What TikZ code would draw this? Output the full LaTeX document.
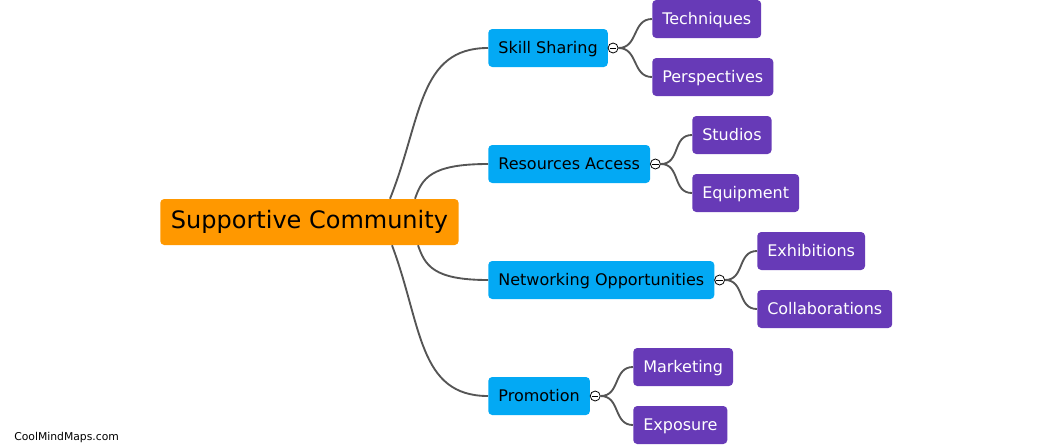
\documentclass[tikz,border=0pt]{standalone}
\usepackage{fontspec}
\setmainfont{DejaVu Sans}
\usetikzlibrary{calc}
\definecolor{rootor}{RGB}{255,152,0}
\definecolor{lonebl}{RGB}{3,169,244}
\definecolor{leafpu}{RGB}{103,58,183}
\definecolor{edgegr}{RGB}{85,85,85}
\tikzset{
  boxbase/.style={rounded corners=3pt, anchor=west},
  rootbox/.style={boxbase, fill=rootor, inner xsep=8pt, minimum height=34.5pt, text=black, text height=13.7pt, text depth=4.3pt, font=\fontsize{18}{21}\selectfont},
  lonebox/.style={boxbase, fill=lonebl, inner xsep=7.6pt, minimum height=28.5pt, text=black, text height=10.8pt, text depth=2.9pt, font=\fontsize{12}{14}\selectfont},
  leafbox/.style={boxbase, fill=leafpu, inner xsep=7.5pt, minimum height=28.5pt, text=white, text height=10.8pt, text depth=2.9pt, font=\fontsize{12}{14}\selectfont},
  colcirc/.style={circle, draw=black, fill=white, line width=0.6pt, minimum size=7.5pt, inner sep=0pt,
    path picture={\draw[line width=0.6pt] ([xshift=1.3pt]path picture bounding box.west) -- ([xshift=-1.3pt]path picture bounding box.east);}},
  edge/.style={draw=edgegr, line width=1.4pt}
}
\begin{document}
\begin{tikzpicture}[x=0.75pt,y=-0.75pt]
\useasboundingbox (0,0) rectangle (1063,444);
% nodes
\node[rootbox] (root) at (160,222) {Supportive Community};
\node[lonebox] (ss) at (488,48) {Skill Sharing};
\node[lonebox] (ra) at (488,164) {Resources Access};
\node[lonebox] (no) at (488,280) {Networking Opportunities};
\node[lonebox] (pr) at (488,396) {Promotion};
\node[colcirc] (css) at ($(ss.east)+(5,0)$) {};
\node[colcirc] (cra) at ($(ra.east)+(5,0)$) {};
\node[colcirc] (cno) at ($(no.east)+(5,0)$) {};
\node[colcirc] (cpr) at ($(pr.east)+(5,0)$) {};
\node[leafbox] (tech) at (652,19) {Techniques};
\node[leafbox] (pers) at (652,77) {Perspectives};
\node[leafbox] (stud) at (692,135) {Studios};
\node[leafbox] (equi) at (692,193) {Equipment};
\node[leafbox] (exhi) at (757,251) {Exhibitions};
\node[leafbox] (coll) at (757,309) {Collaborations};
\node[leafbox] (mark) at (633,367) {Marketing};
\node[leafbox] (expo) at (633,425) {Exposure};
\node[anchor=base west, inner sep=0pt, font=\fontsize{8.1}{10}\selectfont] (wm) at (14,440) {CoolMindMaps.com};
% root edges
\coordinate (s1) at ($(root.north west)+(230,0)$);
\coordinate (s2) at ($(root.north west)+(255,0)$);
\coordinate (s3) at ($(root.south west)+(258,0)$);
\coordinate (s4) at ($(root.south west)+(232,0)$);
\draw[edge] (s1) .. controls ($(s1)+(32,-80)$) and ($(ss.west)+(-70,0)$) .. (ss.west);
\draw[edge] (s2) .. controls ($(s2)+(7,-20)$) and ($(ra.west)+(-58,0)$) .. (ra.west);
\draw[edge] (s3) .. controls ($(s3)+(7,20)$) and ($(no.west)+(-55,0)$) .. (no.west);
\draw[edge] (s4) .. controls ($(s4)+(30,80)$) and ($(pr.west)+(-70,0)$) .. (pr.west);
% leaf edges
\foreach \c/\a/\b in {css/tech/pers, cra/stud/equi, cno/exhi/coll, cpr/mark/expo}{
  \draw[edge] (\c.east) .. controls ($(\c.east)+(20,0)$) and ($(\a.west)+(-20,0)$) .. (\a.west);
  \draw[edge] (\c.east) .. controls ($(\c.east)+(20,0)$) and ($(\b.west)+(-20,0)$) .. (\b.west);
}
\end{tikzpicture}
\end{document}
